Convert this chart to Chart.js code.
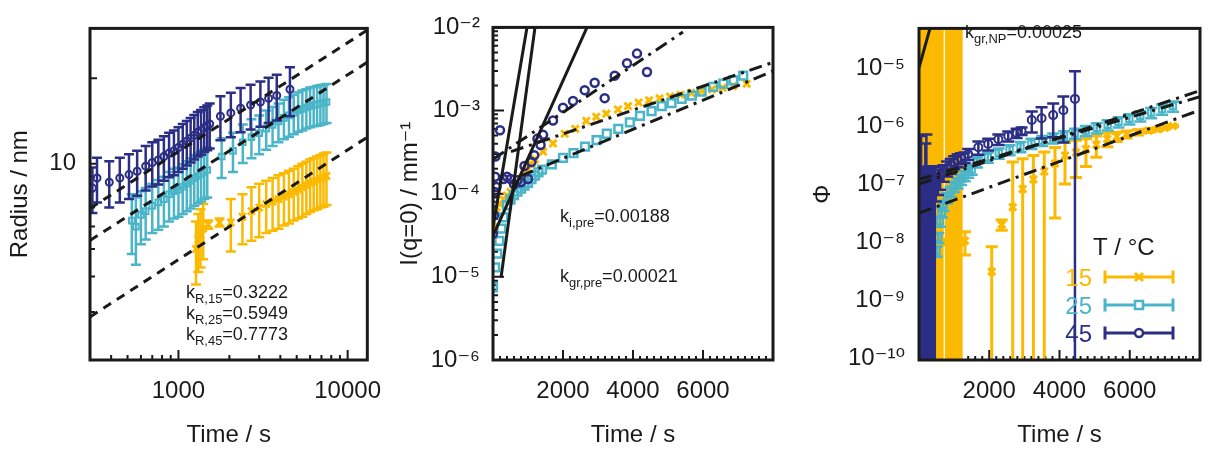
<!DOCTYPE html>
<html>
<head>
<meta charset="utf-8">
<script src="https://cdn.jsdelivr.net/npm/chart.js@4.4.1/dist/chart.umd.min.js"></script>
<style>
  html, body { margin: 0; padding: 0; background: #fff; }
  #wrap { position: relative; width: 1208px; height: 452px; overflow: hidden; }
  #wrap canvas { position: absolute; top: 0; }
</style>
</head>
<body>
<div id="wrap">
  <canvas id="c1" width="400" height="452" style="left:0px"></canvas>
  <canvas id="c2" width="400" height="452" style="left:400px"></canvas>
  <canvas id="c3" width="408" height="452" style="left:800px"></canvas>
</div>
<script>
// series labels (temperature in C)
var tempLabels = ['15', '25', '45'];

// ---------- panel 1 : radius / nm vs time (log-log) ----------
var p1Time15 = [1270, 1310, 1350, 1400, 1500, 1750, 2040, 2390, 2700, 3000, 3300, 3600, 3900, 4200, 4500, 4800, 5100, 5400, 5700, 6000, 6300, 6600, 6900, 7200, 7500];
var p1Rad15  = [5.0, 5.4, 5.6, 5.9, 6.1, 6.2, 6.2, 6.5, 6.8, 7.0, 7.2, 7.35, 7.5, 7.65, 7.8, 7.95, 8.1, 8.25, 8.4, 8.55, 8.65, 8.75, 8.85, 8.95, 9.05];
var p1Err15  = [1.25, 1.25, 1.3, 1.3, 0.2, 0.2, 1.3, 1.3, 1.45, 1.5, 1.5, 1.55, 1.6, 1.6, 1.65, 1.65, 1.7, 1.75, 1.75, 1.8, 1.8, 1.85, 1.85, 1.9, 1.9];

var p1Time25 = [530, 560, 600, 640, 700, 760, 820, 880, 940, 1000, 1060, 1120, 1180, 1240, 1300, 1360, 1420, 1480,
                1800, 2100, 2400, 2700, 3000, 3300, 3600, 3900, 4200, 4500, 4800, 5100, 5400, 5700, 6000, 6300, 6600, 6900, 7200, 7500];
var p1Rad25  = [6.3, 6.0, 6.6, 6.8, 7.1, 7.3, 7.5, 7.8, 8.0, 8.1, 8.3, 8.5, 8.7, 8.9, 9.05, 9.2, 9.35, 9.5,
                10.6, 11.1, 11.9, 12.4, 12.8, 13.3, 13.7, 14.1, 14.5, 14.8, 15.1, 15.4, 15.6, 15.8, 16.0, 16.1, 16.2, 16.3, 16.4, 16.5];
var p1Err25  = [1.5, 1.6, 1.4, 1.4, 1.4, 1.45, 1.5, 1.55, 1.6, 1.6, 1.65, 1.7, 1.75, 1.8, 1.8, 1.85, 1.85, 1.9,
                1.7, 1.75, 1.85, 1.95, 2.0, 2.1, 2.15, 2.2, 2.3, 2.35, 2.4, 2.45, 2.5, 2.5, 2.55, 2.55, 2.6, 2.6, 2.6, 2.6];

var p1Time45 = [310, 330, 390, 450, 510, 570, 640, 700, 760, 820, 880, 940, 1000, 1060, 1120, 1180, 1240, 1300, 1360, 1420, 1480, 1530,
                1770, 2040, 2330, 2670, 3050, 3410, 3810, 4560];
var p1Rad45  = [8.2, 8.9, 8.6, 8.9, 9.15, 9.4, 9.8, 10.1, 10.3, 10.6, 10.9, 11.1, 11.4, 11.7, 12.0, 12.3, 12.6, 12.9, 13.1, 13.4, 13.6, 13.8,
                14.7, 15.1, 15.7, 16.1, 16.5, 17.0, 17.4, 18.3];
var p1Err45  = [1.5, 1.6, 1.6, 1.6, 1.65, 1.7, 1.75, 1.8, 1.85, 1.9, 1.95, 2.0, 2.05, 2.1, 2.15, 2.2, 2.25, 2.3, 2.35, 2.4, 2.45, 2.5,
                2.6, 2.7, 2.8, 2.9, 3.0, 3.1, 3.2, 3.6];

// power-law fits (end points)
var p1FitTime = [300, 13070];
var p1Fit15 = [2.88, 12.4];
var p1Fit25 = [5.36, 22.8];
var p1Fit45 = [6.95, 29.6];

var p1XTicks = [1000, 10000];
var p1YTicks = [10];

// ---------- panel 2 : I(q=0) vs time ----------
var p2Time15 = [0, 100, 200, 300, 400, 500, 600, 700, 800, 900, 1000, 1100, 1200,
                1430, 1714, 2048, 2351, 2665, 2951, 3237, 3571, 3857, 4160, 4460, 4760, 5060, 5360, 5660, 5960, 6260, 6560, 6860, 7250];
var p2Int15  = [4.0e-5, 6.0e-5, 7.5e-5, 8.5e-5, 9.5e-5, 1.05e-4, 1.15e-4, 1.3e-4, 1.5e-4, 1.7e-4, 1.95e-4, 2.25e-4, 2.6e-4,
                3.21e-4, 4.02e-4, 5.26e-4, 6.01e-4, 7.53e-4, 8.4e-4, 9.17e-4, 1.03e-3, 1.13e-3, 1.25e-3, 1.33e-3, 1.4e-3, 1.47e-3, 1.55e-3, 1.63e-3, 1.72e-3, 1.8e-3, 1.88e-3, 1.97e-3, 2.1e-3];

var p2Time25 = [0, 60, 120, 180, 240, 300, 400, 500, 600, 700, 800, 900, 1000, 1100, 1200, 1300, 1400,
                1680, 2000, 2300, 2630, 2960, 3250, 3580, 3910, 4200, 4530, 4820, 5100, 5390, 5680, 5960, 6290, 6580, 6870, 7150];
var p2Int25  = [7.5e-6, 1.3e-5, 1.9e-5, 2.7e-5, 3.8e-5, 5.2e-5, 7.3e-5, 8.5e-5, 9.6e-5, 1.06e-4, 1.15e-4, 1.25e-4, 1.35e-4, 1.5e-4, 1.65e-4, 1.8e-4, 1.95e-4,
                2.25e-4, 2.69e-4, 3.07e-4, 3.68e-4, 4.4e-4, 5.26e-4, 6.01e-4, 7.2e-4, 8.61e-4, 9.86e-4, 1.13e-3, 1.23e-3, 1.38e-3, 1.51e-3, 1.69e-3, 1.93e-3, 2.11e-3, 2.3e-3, 2.63e-3];

var p2Time45 = [0, 30, 50, 60, 70, 100, 200, 300, 400, 500, 600, 700, 800, 900, 1000, 1100, 1180, 1270, 1360, 1430,
                1714, 2000, 2286, 2620, 2905, 3191, 3477, 3829, 4114, 4400];
var p2Int45  = [3.3e-5, 5.5e-5, 1.05e-4, 1.6e-4, 2.8e-4, 1.2e-4, 5.8e-4, 1.5e-4, 1.6e-4, 1.5e-4, 1.3e-4, 1.45e-4, 1.37e-4, 2.15e-4, 1.5e-4, 2.4e-4, 2.9e-4, 4.6e-4, 3.85e-4, 5.1e-4,
                7.6e-4, 1.08e-3, 1.3e-3, 1.76e-3, 2.16e-3, 1.41e-3, 2.63e-3, 3.71e-3, 4.84e-3, 2.91e-3];

// exponential fits (solid) and growth fits (dash-dot), end points
var p2InitA = { t: [0, 971], v: [3.96e-5, 1.0e-2] };
var p2InitB = { t: [229, 1200], v: [9.8e-6, 1.0e-2] };
var p2InitC = { t: [0, 2686], v: [3.1e-5, 1.0e-2] };
var p2Grow45 = { t: [0, 5428], v: [2.6e-4, 8.8e-3] };
var p2Grow15 = { t: [514, 8000], v: [3.2e-4, 3.8e-3] };
var p2Grow25 = { t: [800, 8000], v: [1.64e-4, 2.99e-3] };

var p2XTicks = [2000, 4000, 6000];
var p2YTicks = [1e-6, 1e-5, 1e-4, 1e-3, 1e-2];

// ---------- panel 3 : volume fraction vs time ----------
var p3Time15 = [0, 60, 120, 180, 240, 300, 360, 420, 480, 540, 600, 660, 780, 840, 900, 960, 1020, 1080, 1140, 1200,
                1310, 2070, 2355, 2668, 2952, 3257, 3567, 3872, 4157, 4470, 4754, 5050, 5360, 5630, 5910, 6230, 6530, 6800, 7000, 7230];
var p3Phi15  = [2.9e-8, 1e-8, 1e-8, 1e-8, 1e-8, 1e-8, 1e-8, 1e-8, 1e-8, 1e-8, 1e-8, 1e-8, 1e-8, 1e-8, 1e-8, 1e-8, 1e-8, 1e-8, 1e-8, 1e-8,
                1.05e-8, 3.1e-9, 2.0e-8, 4.0e-8, 8.2e-8, 1.2e-7, 1.65e-7, 2.26e-7, 3.1e-7, 3.5e-7, 4.0e-7, 4.8e-7, 6.0e-7, 6.6e-7, 7.2e-7, 7.8e-7, 8.3e-7, 8.8e-7, 9.3e-7, 1.0e-6];
var p3Err15  = [0.4e-8, 1, 1, 1, 1, 1, 1, 1, 1, 1, 1, 1, 1, 1, 1, 1, 1, 1, 1, 1,
                4.5e-9, 5.2e-9, 0.4e-8, 2.0e-7, 1.9e-7, 1.9e-7, 1.9e-7, 2.0e-7, 2.1e-7, 2.2e-7, 2.0e-7, 1.9e-7, 1.6e-7, 1.2e-7, 1.0e-7, 0.8e-7, 0.6e-7, 0.5e-7, 0.4e-7, 0.3e-7];

var p3Time25 = [0, 100, 200, 300, 400, 500, 550, 600, 650, 700, 800, 900, 1000, 1100, 1200, 1300, 1400, 1500,
                1650, 1960, 2270, 2580, 2890, 3200, 3510, 3820, 4130, 4440, 4750, 5060, 5370, 5680, 5990, 6300, 6610, 6920, 7230];
var p3Phi25  = [7e-9, 7e-9, 7e-9, 7e-9, 7e-9, 7e-9, 1.2e-8, 2.3e-8, 3.3e-8, 4.3e-8, 5.8e-8, 7.5e-8, 9e-8, 1.05e-7, 1.2e-7, 1.4e-7, 1.6e-7, 1.8e-7,
                2.4e-7, 2.9e-7, 3.4e-7, 3.9e-7, 4.4e-7, 5.0e-7, 5.6e-7, 6.2e-7, 6.8e-7, 7.5e-7, 8.3e-7, 9.3e-7, 1.05e-6, 1.18e-6, 1.33e-6, 1.5e-6, 1.7e-6, 1.95e-6, 2.2e-6];
var p3Err25  = [1.4e-9, 1.4e-9, 1.4e-9, 1.4e-9, 1.4e-9, 1.4e-9, 2.4e-9, 4.6e-9, 6.6e-9, 8.6e-9, 1.2e-8, 1.5e-8, 1.8e-8, 2.1e-8, 2.4e-8, 2.8e-8, 3.2e-8, 3.6e-8,
                4.8e-8, 5.8e-8, 6.8e-8, 7.8e-8, 8.8e-8, 1.0e-7, 1.1e-7, 1.2e-7, 1.35e-7, 1.5e-7, 1.65e-7, 1.85e-7, 2.1e-7, 2.35e-7, 2.65e-7, 3.0e-7, 3.4e-7, 3.9e-7, 4.4e-7];

var p3Time45 = [0, 30, 60, 90, 120, 150, 180, 210, 240, 270, 300, 330, 360, 390, 420, 450,
                480, 540, 600, 700, 800, 900, 1000, 1100, 1200, 1300, 1400,
                1690, 1970, 2260, 2540, 2780, 2920, 3210, 3490, 3820, 4110, 4440];
var p3Phi45  = [1.5e-8, 2e-8, 2.5e-8, 3e-8, 3.5e-8, 4e-8, 5e-8, 6e-8, 6.5e-8, 7e-8, 7.5e-8, 8e-8, 8.5e-8, 9e-8, 9.5e-8, 1.0e-7,
                1.0e-7, 1.2e-7, 1.4e-7, 1.6e-7, 1.9e-7, 2.1e-7, 2.4e-7, 2.6e-7, 2.8e-7, 2.9e-7, 3.3e-7,
                4.3e-7, 4.9e-7, 5.9e-7, 6.7e-7, 7.6e-7, 8.2e-7, 1.27e-6, 1.36e-6, 1.54e-6, 1.87e-6, 2.93e-6];
var p3Err45  = [1.8e-7, 1.7e-7, 6.5e-7, 1.6e-7, 1.5e-7, 1.5e-7, 4.5e-7, 6.5e-7, 1.3e-7, 1.3e-7, 1.2e-7, 1.2e-7, 1.1e-7, 1.1e-7, 1.0e-7, 1.0e-7,
                0.5e-7, 0.55e-7, 0.6e-7, 0.5e-7, 0.55e-7, 0.6e-7, 0.6e-7, 0.65e-7, 0.6e-7, 0.6e-7, 0.7e-7,
                1.1e-7, 1.1e-7, 1.2e-7, 1.3e-7, 1.4e-7, 1.2e-7, 5e-7, 7.5e-7, 9e-7, 1.35e-6, 5.8e-6];

var p3Init   = { t: [0, 313], v: [1.0e-5, 4.8e-5] };
var p3Grow45 = { t: [0, 8000], v: [1.0e-7, 4.06e-6] };
var p3Grow25 = { t: [0, 8000], v: [1.2e-7, 3.2e-6] };
var p3Grow15 = { t: [0, 8000], v: [3.16e-8, 1.88e-6] };

var p3XTicks = [2000, 4000, 6000];
var p3YTicks = [1e-10, 1e-9, 1e-8, 1e-7, 1e-6, 1e-5];

// ---------- look ----------
var FONT = "'Liberation Sans', 'DejaVu Sans', sans-serif";
var INK = '#1a1a1a';
var C15 = '#FBBA00', C25 = '#4AB5C8', C45 = '#2B2E84';
var DASH = [9, 7];
var DASHDOT = [13, 6, 3, 6];

var SUP = { '-': '\u207B', '0': '\u2070', '1': '\u00B9', '2': '\u00B2', '3': '\u00B3', '4': '\u2074',
            '5': '\u2075', '6': '\u2076', '7': '\u2077', '8': '\u2078', '9': '\u2079' };
function pow10(v) {
  return '10' + String(Math.round(Math.log10(v))).split('').map(function (c) { return SUP[c]; }).join('');
}

function pts(ts, vs) {
  return ts.map(function (t, i) { return { x: t, y: vs[i] }; });
}

function marks(label, ts, vs, es, color, style, r, bw, order, cap, ew) {
  return {
    label: label, data: pts(ts, vs), errs: es, cap: cap, errWidth: ew,
    borderColor: color, backgroundColor: 'rgba(0,0,0,0)',
    pointBorderColor: color, pointBackgroundColor: 'rgba(0,0,0,0)',
    pointStyle: style, pointRadius: r, pointBorderWidth: bw, borderWidth: bw,
    showLine: false, order: order, clip: 0
  };
}

function fit(f, dash) {
  return {
    data: pts(f.t, f.v), showLine: true, pointRadius: 0, borderColor: INK,
    borderWidth: 3, borderDash: dash, fill: false, order: 0, clip: 0
  };
}

// log scale minor ticks 2..9 per decade between two decades
function logMinor(lo, hi) {
  var out = [];
  for (var d = lo; d < hi; d++) {
    for (var m = 2; m <= 9; m++) out.push(m * Math.pow(10, d));
  }
  return out;
}
function linMinor(step, max, majors) {
  var out = [];
  for (var v = step; v < max; v += step) if (majors.indexOf(v) < 0) out.push(v);
  return out;
}

// inward tick marks + box frame
function makeFrame(c) {
  return {
    id: 'frame',
    beforeDatasetsDraw: function (chart) {
      var ctx = chart.ctx, a = chart.chartArea, sx = chart.scales.x, sy = chart.scales.y;
      ctx.save();
      ctx.strokeStyle = INK;
      ctx.lineWidth = 2;
      ctx.beginPath();
      function xt(list, len) {
        list.forEach(function (v) { var p = sx.getPixelForValue(v); ctx.moveTo(p, a.bottom); ctx.lineTo(p, a.bottom - len); });
      }
      function yt(list, len) {
        list.forEach(function (v) { var p = sy.getPixelForValue(v); ctx.moveTo(a.left, p); ctx.lineTo(a.left + len, p); });
      }
      xt(c.xMajor, c.xMajLen); xt(c.xMinor, c.xMinLen);
      yt(c.yMajor, c.yMajLen); yt(c.yMinor, c.yMinLen);
      ctx.stroke();
      ctx.restore();
    },
    afterDatasetsDraw: function (chart) {
      var ctx = chart.ctx, a = chart.chartArea;
      ctx.save();
      ctx.strokeStyle = INK;
      ctx.lineWidth = 3;
      ctx.strokeRect(a.left, a.top, a.right - a.left, a.bottom - a.top);
      ctx.restore();
    }
  };
}

// error bars, drawn under each series' own markers
var errPlugin = {
  id: 'errbars',
  beforeDatasetDraw: function (chart, args) {
    var ds = chart.data.datasets[args.index];
    if (!ds.errs) return;
    var ctx = chart.ctx, a = chart.chartArea, sx = chart.scales.x, sy = chart.scales.y;
    var cap = ds.cap || 5;
    ctx.save();
    ctx.beginPath();
    ctx.rect(a.left, a.top, a.right - a.left, a.bottom - a.top);
    ctx.clip();
    ctx.strokeStyle = ds.borderColor;
    ctx.lineWidth = ds.errWidth || 2.5;
    ds.data.forEach(function (p, i) {
      var e = ds.errs[i];
      if (!e) return;
      var px = sx.getPixelForValue(p.x);
      var hi = sy.getPixelForValue(p.y + e);
      var lo = (p.y - e > 0) ? sy.getPixelForValue(p.y - e) : a.bottom + 40;
      ctx.beginPath();
      ctx.moveTo(px, hi); ctx.lineTo(px, lo);
      ctx.moveTo(px - cap, hi); ctx.lineTo(px + cap, hi);
      ctx.moveTo(px - cap, lo); ctx.lineTo(px + cap, lo);
      ctx.stroke();
    });
    ctx.restore();
  }
};

// text with sub/superscripts, e.g. k_{R,15}=0.3222
function makeNotes(items) {
  return {
    id: 'notes',
    afterDraw: function (chart) {
      var ctx = chart.ctx;
      ctx.save();
      ctx.fillStyle = INK;
      ctx.textAlign = 'left';
      ctx.textBaseline = 'alphabetic';
      items.forEach(function (it) {
        var x = it.x;
        it.parts.forEach(function (pt) {
          var small = pt[1] !== 'n';
          ctx.font = (small ? it.size * 0.72 : it.size) + 'px ' + FONT;
          var dy = pt[1] === 'sub' ? it.size * 0.3 : (pt[1] === 'sup' ? -it.size * 0.42 : 0);
          ctx.fillText(pt[0], x, it.y + dy);
          x += ctx.measureText(pt[0]).width;
        });
      });
      ctx.restore();
    }
  };
}

function drawMark(ctx, style, x, y, r, color) {
  ctx.save();
  ctx.strokeStyle = color;
  ctx.fillStyle = '#fff';
  ctx.lineWidth = 2.5;
  ctx.beginPath();
  if (style === 'circle') {
    ctx.arc(x, y, r, 0, Math.PI * 2); ctx.fill(); ctx.stroke();
  } else if (style === 'rect') {
    ctx.rect(x - r, y - r, 2 * r, 2 * r); ctx.fill(); ctx.stroke();
  } else {
    ctx.lineWidth = 3;
    ctx.moveTo(x - r, y - r); ctx.lineTo(x + r, y + r);
    ctx.moveTo(x + r, y - r); ctx.lineTo(x - r, y + r); ctx.stroke();
  }
  ctx.restore();
}

function makeTempLegend(head, rows) {
  return {
    id: 'tlegend',
    afterDraw: function (chart) {
      var ctx = chart.ctx;
      ctx.save();
      ctx.font = '24px ' + FONT;
      ctx.textBaseline = 'alphabetic';
      ctx.fillStyle = INK;
      ctx.textAlign = 'left';
      ctx.fillText(head.text, head.x, head.y);
      rows.forEach(function (rw) {
        ctx.fillStyle = rw.color;
        ctx.textAlign = 'right';
        ctx.fillText(rw.text, rw.tx, rw.y + 8.5);
        ctx.strokeStyle = rw.color;
        ctx.lineWidth = 3;
        ctx.beginPath();
        ctx.moveTo(rw.x0, rw.y); ctx.lineTo(rw.x1, rw.y);
        ctx.moveTo(rw.x0, rw.y - 6.5); ctx.lineTo(rw.x0, rw.y + 6.5);
        ctx.moveTo(rw.x1, rw.y - 6.5); ctx.lineTo(rw.x1, rw.y + 6.5);
        ctx.stroke();
        drawMark(ctx, rw.style, (rw.x0 + rw.x1) / 2, rw.y, 4, rw.color);
      });
      ctx.restore();
    }
  };
}

function tickFont() { return { family: FONT, size: 24 }; }

function xAxis(type, min, max, ticks) {
  return {
    type: type, min: min, max: max,
    afterBuildTicks: function (s) { s.ticks = ticks.map(function (v) { return { value: v }; }); },
    ticks: { autoSkip: false, maxRotation: 0, padding: 17, color: INK, font: tickFont(),
             callback: function (v) { return String(v); } },
    grid: { display: false, drawTicks: false },
    border: { display: false },
    title: { display: true, text: 'Time / s', color: INK, font: tickFont(), padding: { top: 0, bottom: 2 } },
    afterFit: function (s) { s.height = 92; }
  };
}

function yAxis(min, max, ticks, fmt, title, tpad, width, lpad) {
  return {
    type: 'logarithmic', min: min, max: max,
    afterBuildTicks: function (s) { s.ticks = ticks.map(function (v) { return { value: v }; }); },
    ticks: { autoSkip: false, padding: lpad, color: INK, font: tickFont(), callback: fmt },
    grid: { display: false, drawTicks: false },
    border: { display: false },
    title: { display: true, text: title, color: INK, font: tickFont(), padding: { top: tpad, bottom: 0 } },
    afterFit: function (s) { s.width = width; }
  };
}

function baseOptions(right, scales) {
  return {
    responsive: false, animation: false, devicePixelRatio: 1,
    layout: { padding: { top: 17, right: right, bottom: 0, left: 0 } },
    plugins: { legend: { display: false }, tooltip: { enabled: false } },
    scales: scales
  };
}

// ---------- chart 1 ----------
new Chart(document.getElementById('c1').getContext('2d'), {
  type: 'scatter',
  data: {
    datasets: [
      fit({ t: p1FitTime, v: p1Fit15 }, DASH),
      fit({ t: p1FitTime, v: p1Fit25 }, DASH),
      fit({ t: p1FitTime, v: p1Fit45 }, DASH),
      marks(tempLabels[2], p1Time45, p1Rad45, p1Err45, C45, 'circle', 3.5, 2, 1, 5, 2.5),
      marks(tempLabels[1], p1Time25, p1Rad25, p1Err25, C25, 'rect', 4, 2, 2, 5, 2.5),
      marks(tempLabels[0], p1Time15, p1Rad15, p1Err15, C15, 'crossRot', 5, 2.5, 3, 5, 2.5)
    ]
  },
  options: baseOptions(28, {
    x: xAxis('logarithmic', 300, 13070, p1XTicks),
    y: yAxis(2.03, 30, p1YTicks, function (v) { return String(v); }, 'Radius / nm', 5.6, 90, 14)
  }),
  plugins: [
    errPlugin,
    makeFrame({
      xMajor: [1000, 10000], xMinor: [400, 500, 600, 700, 800, 900, 2000, 3000, 4000, 5000, 6000, 7000, 8000, 9000], xMajLen: 10, xMinLen: 5,
      yMajor: [10, 20], yMinor: [3, 4, 5, 6, 7, 8, 9], yMajLen: 7, yMinLen: 5
    }),
    makeNotes([
      { x: 186, y: 298, size: 18, parts: [['k', 'n'], ['R,15', 'sub'], ['=0.3222', 'n']] },
      { x: 186, y: 319, size: 18, parts: [['k', 'n'], ['R,25', 'sub'], ['=0.5949', 'n']] },
      { x: 186, y: 340, size: 18, parts: [['k', 'n'], ['R,45', 'sub'], ['=0.7773', 'n']] }
    ])
  ]
});

// ---------- chart 2 ----------
new Chart(document.getElementById('c2').getContext('2d'), {
  type: 'scatter',
  data: {
    datasets: [
      fit(p2InitA, []), fit(p2InitB, []), fit(p2InitC, []),
      fit(p2Grow45, DASHDOT), fit(p2Grow15, DASHDOT), fit(p2Grow25, DASHDOT),
      marks(tempLabels[2], p2Time45, p2Int45, null, C45, 'circle', 4, 2.5, 1),
      marks(tempLabels[1], p2Time25, p2Int25, null, C25, 'rect', 5.5, 2.5, 2),
      marks(tempLabels[0], p2Time15, p2Int15, null, C15, 'crossRot', 5, 3, 3)
    ]
  },
  options: baseOptions(27, {
    x: xAxis('linear', 0, 8000, p2XTicks),
    y: yAxis(1e-6, 1e-2, p2YTicks, pow10, 'I(q=0) / mm\u207B\u00B9', -4.4, 93, 13)
  }),
  plugins: [
    errPlugin,
    makeFrame({
      xMajor: p2XTicks, xMinor: linMinor(200, 8000, p2XTicks), xMajLen: 10, xMinLen: 4,
      yMajor: p2YTicks, yMinor: logMinor(-6, -2), yMajLen: 11, yMinLen: 5
    }),
    makeNotes([
      { x: 160, y: 222, size: 18, parts: [['k', 'n'], ['i,pre', 'sub'], ['=0.00188', 'n']] },
      { x: 160, y: 282, size: 18, parts: [['k', 'n'], ['gr,pre', 'sub'], ['=0.00021', 'n']] }
    ])
  ]
});

// ---------- chart 3 ----------
new Chart(document.getElementById('c3').getContext('2d'), {
  type: 'scatter',
  data: {
    datasets: [
      fit(p3Init, []),
      fit(p3Grow45, DASHDOT), fit(p3Grow25, DASHDOT), fit(p3Grow15, DASHDOT),
      marks(tempLabels[2], p3Time45, p3Phi45, p3Err45, C45, 'circle', 4, 2, 1, 6, 2.5),
      marks(tempLabels[1], p3Time25, p3Phi25, p3Err25, C25, 'rect', 4.5, 2, 2, 6, 2.5),
      marks(tempLabels[0], p3Time15, p3Phi15, p3Err15, C15, 'crossRot', 5, 3, 3, 6, 3)
    ]
  },
  options: baseOptions(8, {
    x: xAxis('linear', 0, 8000, p3XTicks),
    y: yAxis(9.3e-11, 4.8e-5, p3YTicks, pow10, '\u03A6', 8.6, 119, 14)
  }),
  plugins: [
    errPlugin,
    makeFrame({
      xMajor: p3XTicks, xMinor: linMinor(200, 8000, p3XTicks), xMajLen: 10, xMinLen: 4,
      yMajor: p3YTicks, yMinor: logMinor(-10, -5), yMajLen: 11, yMinLen: 5
    }),
    makeNotes([
      { x: 165, y: 38, size: 18, parts: [['k', 'n'], ['gr,NP', 'sub'], ['=0.00025', 'n']] }
    ]),
    makeTempLegend({ text: 'T / \u00B0C', x: 293, y: 255 }, [
      { text: tempLabels[0], color: C15, style: 'crossRot', tx: 292, x0: 305, x1: 373, y: 277 },
      { text: tempLabels[1], color: C25, style: 'rect', tx: 292, x0: 305, x1: 373, y: 305 },
      { text: tempLabels[2], color: C45, style: 'circle', tx: 292, x0: 305, x1: 373, y: 333 }
    ])
  ]
});
</script>
</body>
</html>
